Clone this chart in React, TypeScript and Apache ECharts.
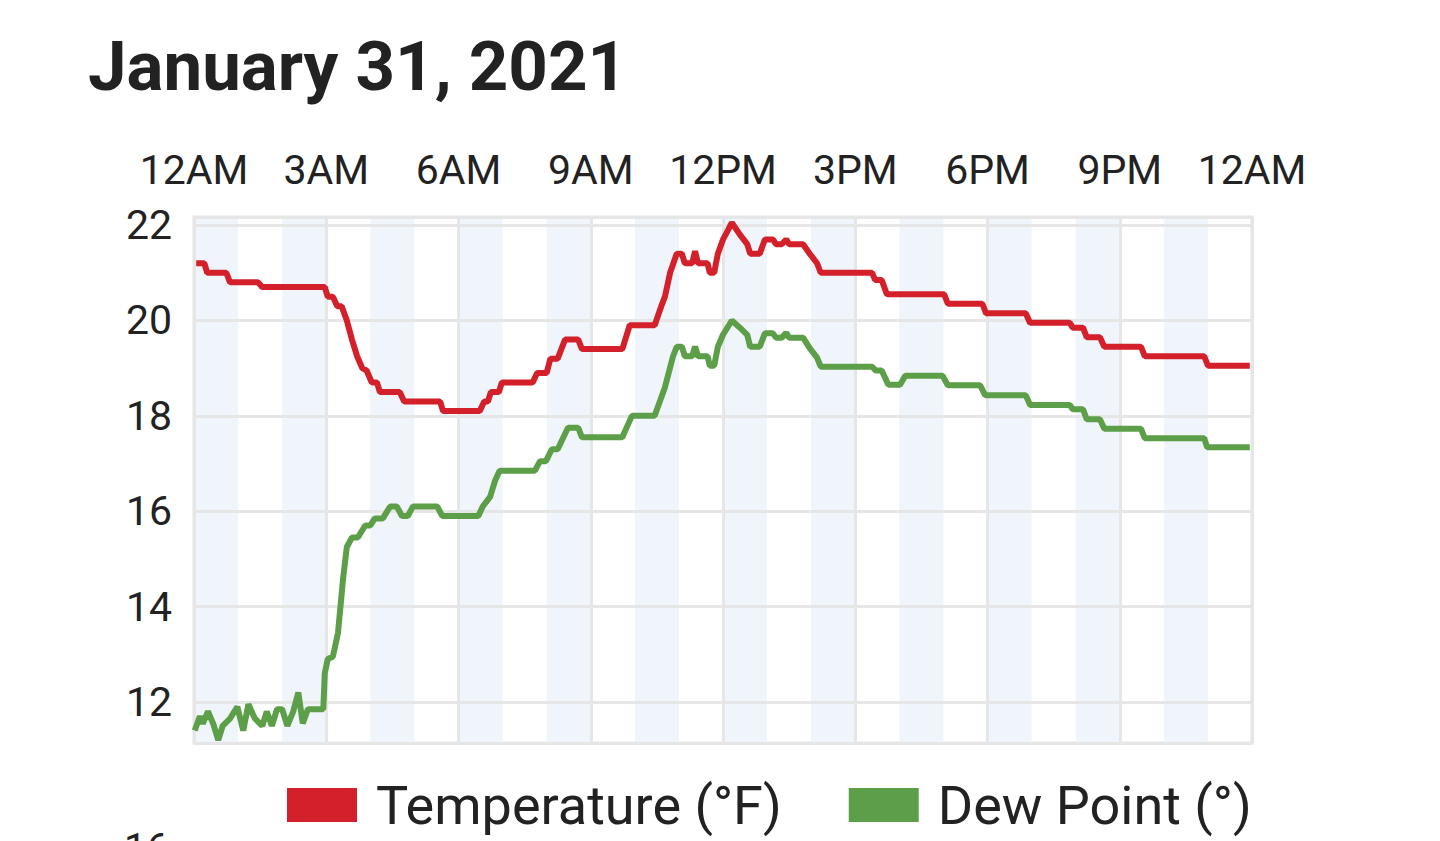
import React, { useEffect, useRef } from 'react';
import * as echarts from 'echarts';

const chartTitle = 'January 31, 2021';
const xTickLabels = ['12AM', '3AM', '6AM', '9AM', '12PM', '3PM', '6PM', '9PM', '12AM'];
const seriesNames = ['Temperature (°F)', 'Dew Point (°)'];
const seriesColors = ['#d4202a', '#5c9f48'];
const nextChartFirstLabel = '16';

const tempTimes = [
  '00:03', '00:14', '00:18', '00:44', '00:49', '01:27', '01:33', '02:58', '03:02', '03:09',
  '03:15', '03:19', '03:21', '03:28', '03:35', '03:42', '03:49', '03:55', '04:02', '04:09',
  '04:13', '04:40', '04:46', '05:35', '05:39', '06:29', '06:35', '06:40', '06:44', '06:55',
  '06:59', '07:41', '07:47', '08:00', '08:05', '08:15', '08:25', '08:43', '08:48', '09:43',
  '09:53', '10:27', '10:36', '10:41', '10:48', '10:57', '11:04', '11:08', '11:18', '11:22',
  '11:26', '11:39', '11:42', '11:48', '11:53', '12:00', '12:07', '12:12', '12:23', '12:33',
  '12:37', '12:50', '12:57', '13:08', '13:12', '13:20', '13:26', '13:30', '13:49', '13:58',
  '14:08', '14:13', '15:23', '15:27', '15:36', '15:43', '17:01', '17:06', '17:53', '17:58',
  '18:52', '18:58', '19:52', '19:56', '20:10', '20:15', '20:33', '20:39', '21:29', '21:34',
  '22:55', '23:00', '23:57',
];
const tempValues = [
  21.2, 21.2, 21.0, 21.0, 20.8, 20.8, 20.7, 20.7, 20.5, 20.5,
  20.3, 20.3, 20.3, 20.0, 19.6, 19.25, 19.0, 18.95, 18.7, 18.7,
  18.5, 18.5, 18.3, 18.3, 18.1, 18.1, 18.3, 18.3, 18.5, 18.5,
  18.7, 18.7, 18.9, 18.9, 19.2, 19.2, 19.6, 19.6, 19.4, 19.4,
  19.9, 19.9, 20.3, 20.5, 21.0, 21.4, 21.4, 21.2, 21.2, 21.45,
  21.2, 21.2, 21.0, 21.0, 21.4, 21.7, 21.9, 22.05, 21.8, 21.6,
  21.4, 21.4, 21.7, 21.7, 21.6, 21.6, 21.7, 21.6, 21.6, 21.4,
  21.2, 21.0, 21.0, 20.85, 20.85, 20.55, 20.55, 20.35, 20.35, 20.15,
  20.15, 19.95, 19.95, 19.85, 19.85, 19.65, 19.65, 19.45, 19.45, 19.25,
  19.25, 19.05, 19.05,
];

const dewTimes = [
  '00:01', '00:08', '00:12', '00:19', '00:26', '00:33', '00:39', '00:49', '00:59', '01:07',
  '01:14', '01:23', '01:33', '01:39', '01:46', '01:53', '02:00', '02:07', '02:15', '02:22',
  '02:28', '02:35', '02:56', '02:58', '03:02', '03:09', '03:16', '03:23', '03:28', '03:35',
  '03:43', '03:53', '04:00', '04:06', '04:17', '04:27', '04:36', '04:43', '04:51', '04:58',
  '05:31', '05:38', '06:27', '06:33', '06:43', '06:50', '06:56', '07:44', '07:51', '07:59',
  '08:07', '08:15', '08:29', '08:43', '08:48', '09:43', '09:56', '10:27', '10:41', '10:52',
  '10:57', '11:04', '11:08', '11:18', '11:22', '11:26', '11:39', '11:42', '11:48', '11:53',
  '12:00', '12:12', '12:23', '12:33', '12:37', '12:50', '12:57', '13:08', '13:12', '13:20',
  '13:26', '13:30', '13:49', '13:58', '14:08', '14:13', '15:23', '15:28', '15:36', '15:45',
  '16:01', '16:08', '16:59', '17:06', '17:50', '17:57', '18:52', '18:58', '19:52', '19:56',
  '20:10', '20:15', '20:33', '20:39', '21:29', '21:34', '22:55', '22:59', '23:57',
];
const dewValues = [
  11.4, 11.7, 11.55, 11.8, 11.55, 11.2, 11.5, 11.65, 11.9, 11.4,
  11.95, 11.65, 11.5, 11.8, 11.5, 11.85, 11.85, 11.5, 11.8, 12.2,
  11.55, 11.85, 11.85, 12.6, 12.9, 12.95, 13.45, 14.6, 15.25, 15.45,
  15.45, 15.7, 15.7, 15.85, 15.85, 16.1, 16.1, 15.9, 15.9, 16.1,
  16.1, 15.9, 15.9, 16.1, 16.3, 16.65, 16.85, 16.85, 17.05, 17.05,
  17.3, 17.3, 17.75, 17.75, 17.55, 17.55, 18.0, 18.0, 18.6, 19.25,
  19.45, 19.45, 19.25, 19.25, 19.45, 19.25, 19.25, 19.05, 19.05, 19.45,
  19.7, 20.0, 19.85, 19.7, 19.45, 19.45, 19.73, 19.73, 19.64, 19.64,
  19.74, 19.64, 19.64, 19.42, 19.22, 19.03, 19.03, 18.95, 18.95, 18.65,
  18.65, 18.84, 18.84, 18.64, 18.64, 18.43, 18.43, 18.23, 18.23, 18.14,
  18.14, 17.93, 17.93, 17.73, 17.73, 17.53, 17.53, 17.34, 17.34,
];

const toMinutes = (t: string) => {
  const [h, m] = t.split(':').map(Number);
  return h * 60 + m;
};

const pairs = (times: string[], values: number[]) =>
  times.map((t, i) => [toMinutes(t), values[i]]);

const FONT = 'Roboto, "Noto Sans", sans-serif';
const TEXT = '#222222';
const GRID_COLOR = '#e6e6e6';

export default function App() {
  const ref = useRef<HTMLDivElement>(null);

  useEffect(() => {
    if (!ref.current) return;
    const chart = echarts.init(ref.current, undefined, { renderer: 'svg' });
    chart.setOption({
      animation: false,
      backgroundColor: '#ffffff',
      textStyle: { fontFamily: FONT },
      graphic: [
        {
          type: 'text',
          x: 88,
          y: 66,
          style: {
            text: chartTitle,
            font: `bold 69px ${FONT}`,
            fill: TEXT,
            textVerticalAlign: 'middle',
            verticalAlign: 'middle',
          },
        },
        {
          type: 'text',
          x: 124,
          y: 848,
          style: {
            text: nextChartFirstLabel,
            font: `40px ${FONT}`,
            fill: TEXT,
            verticalAlign: 'middle',
            textVerticalAlign: 'middle',
          },
        },
      ],
      legend: {
        left: 287,
        top: 778,
        padding: 0,
        icon: 'rect',
        itemWidth: 70,
        itemHeight: 34,
        itemGap: 67,
        itemStyle: { borderWidth: 0 },
        textStyle: {
          fontSize: 54,
          lineHeight: 34,
          color: TEXT,
          fontFamily: FONT,
          padding: [0, 0, 0, 14],
        },
        data: seriesNames,
      },
      grid: {
        left: 194,
        top: 217,
        width: 1058,
        height: 526,
        show: true,
        borderColor: GRID_COLOR,
        borderWidth: 3,
        backgroundColor: 'rgba(0,0,0,0)',
        containLabel: false,
      },
      xAxis: [
        {
          type: 'value',
          min: 0,
          max: 1440,
          interval: 60,
          z: 0,
          axisLabel: { show: false },
          axisLine: { show: false },
          axisTick: { show: false },
          splitLine: { show: false },
          splitArea: {
            show: true,
            areaStyle: { color: ['#eff5fa', 'rgba(255,255,255,0)'] },
          },
        },
        {
          type: 'value',
          position: 'top',
          min: 0,
          max: 1440,
          interval: 180,
          z: 1,
          axisLabel: {
            formatter: (v: number) => xTickLabels[Math.round(v / 180)] ?? '',
            fontSize: 41,
            color: TEXT,
            fontFamily: FONT,
            margin: 27,
          },
          axisLine: { show: false },
          axisTick: { show: false },
          splitLine: { show: true, lineStyle: { color: GRID_COLOR, width: 3 } },
        },
      ],
      yAxis: {
        type: 'value',
        min: 11.14,
        max: 22.17,
        splitNumber: 5,
        z: 1,
        axisLabel: {
          formatter: (v: number) => (Math.abs(v - Math.round(v)) < 1e-6 ? String(Math.round(v)) : ''),
          fontSize: 41,
          color: TEXT,
          fontFamily: FONT,
          margin: 22,
        },
        axisLine: { show: false },
        axisTick: { show: false },
        splitLine: { show: true, lineStyle: { color: GRID_COLOR, width: 3 } },
      },
      series: [
        {
          name: seriesNames[0],
          type: 'line',
          xAxisIndex: 1,
          data: pairs(tempTimes, tempValues),
          symbol: 'none',
          color: seriesColors[0],
          lineStyle: { width: 6, color: seriesColors[0] },
          z: 3,
        },
        {
          name: seriesNames[1],
          type: 'line',
          xAxisIndex: 1,
          data: pairs(dewTimes, dewValues),
          symbol: 'none',
          color: seriesColors[1],
          lineStyle: { width: 6, color: seriesColors[1] },
          z: 3,
        },
      ],
    });
    return () => chart.dispose();
  }, []);

  return (
    <div
      ref={ref}
      style={{ position: 'absolute', left: 0, top: 0, width: 1440, height: 841, background: '#fff' }}
    />
  );
}
